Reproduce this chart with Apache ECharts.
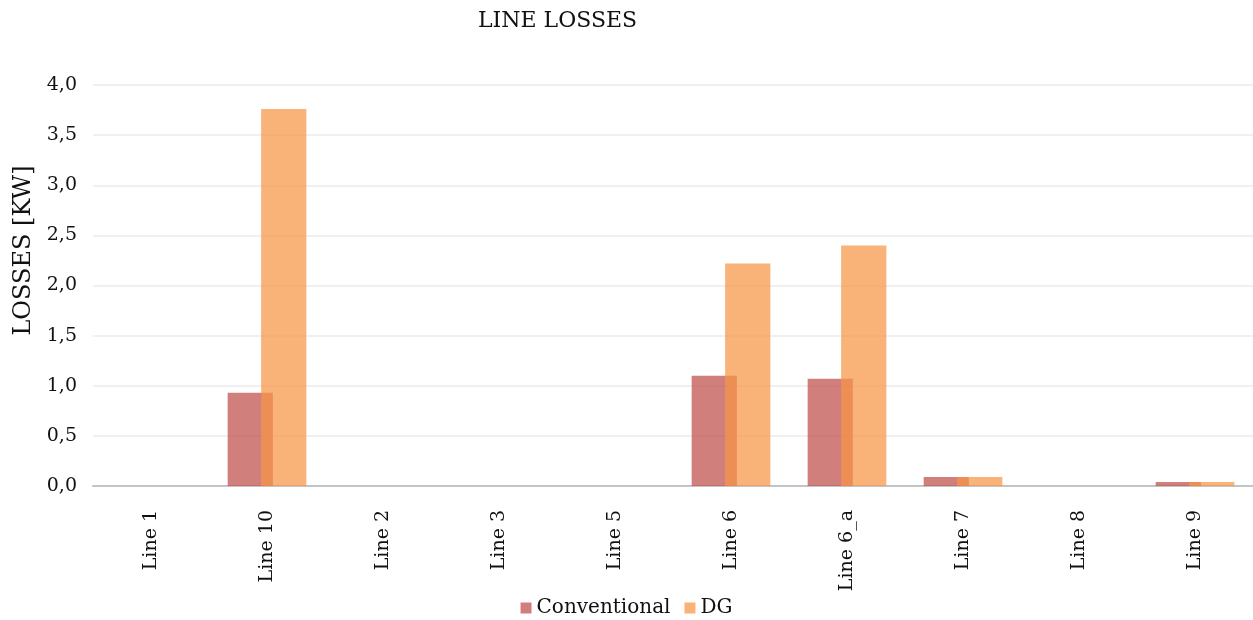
<!DOCTYPE html>
<html>
<head>
<meta charset="utf-8">
<script src="https://cdn.jsdelivr.net/npm/echarts@6/dist/echarts.min.js"></script>
<style>
  html, body { margin: 0; padding: 0; background: #fff; }
  #chart { width: 1253px; height: 620px; }
</style>
</head>
<body>
<div id="chart"></div>
<script>
const categories = ['Line 1', 'Line 10', 'Line 2', 'Line 3', 'Line 5', 'Line 6', 'Line 6_a', 'Line 7', 'Line 8', 'Line 9']
const conventional = [0, 0.93, 0, 0, 0, 1.10, 1.07, 0.09, 0, 0.04]
const dg = [0, 3.76, 0, 0, 0, 2.22, 2.40, 0.09, 0, 0.04]

const font = 'DejaVu Serif'

echarts.init(document.getElementById('chart')).setOption({
  animation: false,
  title: {
    text: 'LINE LOSSES',
    left: 473,
    top: 5,
    textStyle: { fontFamily: font, fontSize: 22, fontWeight: 'normal', color: '#111' },
  },
  legend: {
    top: 593,
    left: 'center',
    itemWidth: 11,
    itemHeight: 11,
    itemGap: 14,
    icon: 'rect',
    textStyle: { fontFamily: font, fontSize: 20, color: '#111' },
    data: ['Conventional', 'DG'],
  },
  grid: {
    left: 93,
    width: 1168,
    top: 85,
    height: 401,
  },
  xAxis: {
    type: 'category',
    data: categories,
    axisLine: { lineStyle: { color: '#c4c4c4', width: 2 } },
    axisTick: { show: false },
    axisLabel: {
      rotate: 90,
      margin: 24,
      fontFamily: font,
      fontSize: 19,
      color: '#111',
    },
  },
  yAxis: {
    type: 'value',
    min: 0,
    max: 4,
    interval: 0.5,
    name: 'LOSSES [KW]',
    nameLocation: 'middle',
    nameGap: 56,
    nameTextStyle: { fontFamily: font, fontSize: 24, color: '#111', padding: [0, 0, 0, 70] },
    axisLine: { show: false },
    axisTick: { show: false },
    splitLine: { lineStyle: { color: '#f0f0f0', width: 2 } },
    axisLabel: {
      margin: 16,
      fontFamily: font,
      fontSize: 19,
      color: '#111',
      formatter: v => v.toFixed(1).replace('.', ','),
    },
  },
  series: [
    {
      name: 'Conventional',
      type: 'bar',
      data: conventional,
      barWidth: '39%',
      barGap: '-26%',
      itemStyle: { color: 'rgba(192,80,77,0.73)' },
    },
    {
      name: 'DG',
      type: 'bar',
      data: dg,
      barWidth: '39%',
      barGap: '-26%',
      itemStyle: { color: 'rgba(247,150,70,0.73)' },
    },
  ],
})
</script>
</body>
</html>
